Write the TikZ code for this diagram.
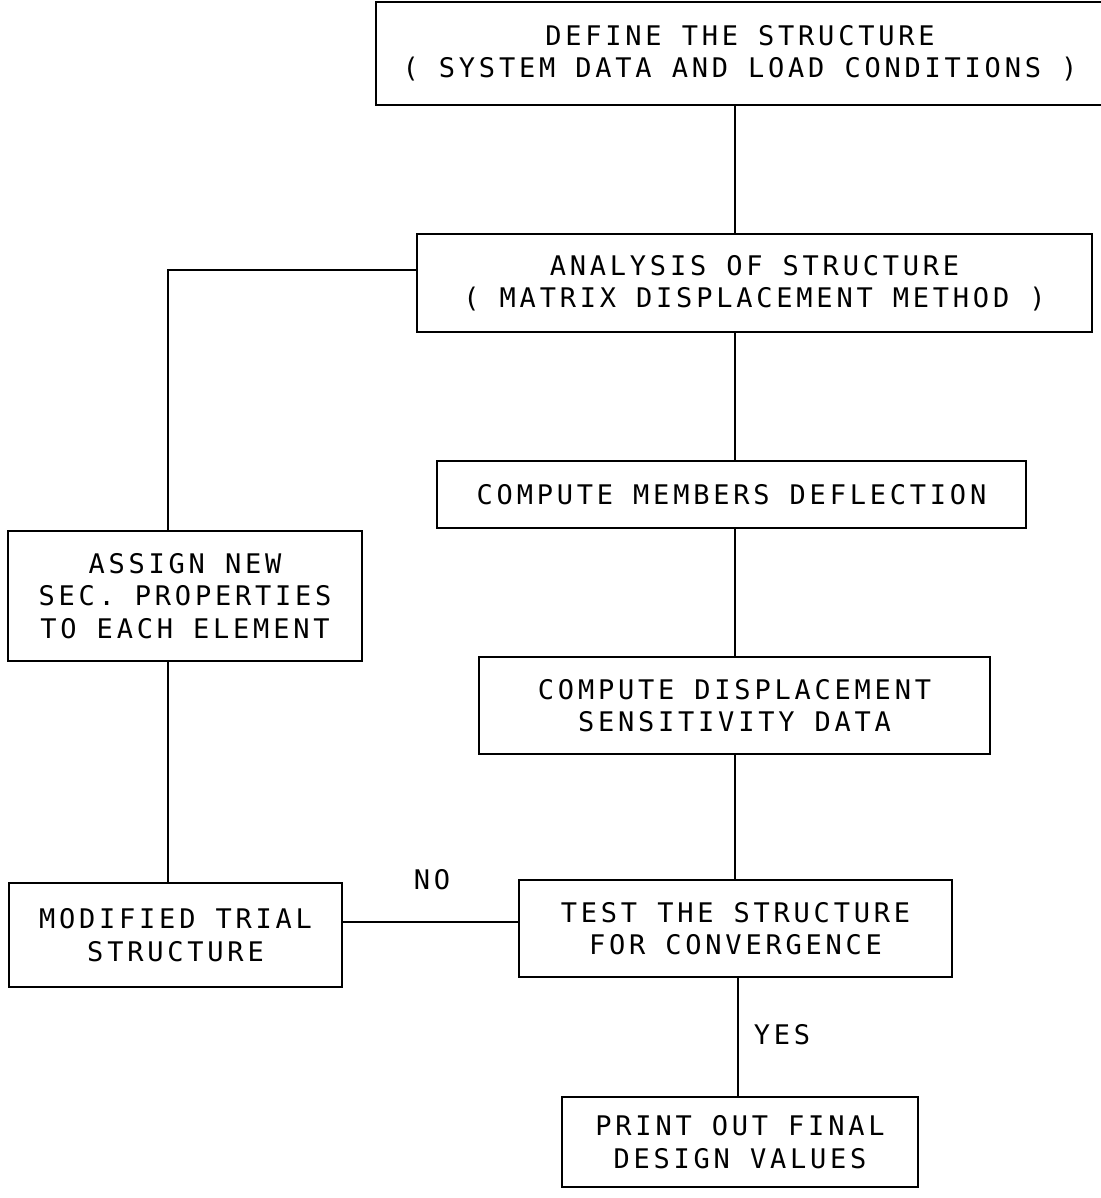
\documentclass[tikz,border=0pt]{standalone}
\usepackage{fontspec}
\setmainfont{DejaVu Sans Mono}[LetterSpace=14]
\begin{document}
\begin{tikzpicture}[x=0.5pt,y=-0.5pt,
  box/.style={draw,line width=1.3pt,inner sep=0pt,align=center,
    font=\fontsize{13.5}{16.2}\selectfont},
  conn/.style={line width=1.3pt},
  lbl/.style={inner sep=0pt,font=\fontsize{13.5}{16.2}\selectfont}]
\useasboundingbox (0,0) rectangle (1100,1198);
\coordinate (xm) at (735,0);
\coordinate (xp) at (738,0);
\coordinate (xl) at (168,0);
\coordinate (ya) at (0,270);
\coordinate (yn) at (0,922);
\node[box,minimum width=364pt,minimum height=51.5pt] (define) at (740,53.5)
  {DEFINE THE STRUCTURE\\( SYSTEM DATA AND LOAD CONDITIONS )};
\node[box,minimum width=337.5pt,minimum height=49pt] (analysis) at (754.5,283)
  {ANALYSIS OF STRUCTURE\\( MATRIX DISPLACEMENT METHOD )};
\node[box,minimum width=294.5pt,minimum height=33.5pt] (deflect) at (731.5,494.5)
  {COMPUTE MEMBERS DEFLECTION};
\node[box,minimum width=177pt,minimum height=65pt] (assign) at (185,596)
  {ASSIGN NEW\\SEC. PROPERTIES\\TO EACH ELEMENT};
\node[box,minimum width=255.5pt,minimum height=48.5pt] (sens) at (734.5,705.5)
  {COMPUTE DISPLACEMENT\\SENSITIVITY DATA};
\node[box,minimum width=166.5pt,minimum height=52pt] (trial) at (175.5,935)
  {MODIFIED TRIAL\\STRUCTURE};
\node[box,minimum width=216.5pt,minimum height=48.5pt] (test) at (735.5,928.5)
  {TEST THE STRUCTURE\\FOR CONVERGENCE};
\node[box,minimum width=178pt,minimum height=45pt] (print) at (740,1142)
  {PRINT OUT FINAL\\DESIGN VALUES};
\draw[conn] (define.south -| xm) -- (analysis.north -| xm);
\draw[conn] (analysis.south -| xm) -- (deflect.north -| xm);
\draw[conn] (deflect.south -| xm) -- (sens.north -| xm);
\draw[conn] (sens.south -| xm) -- (test.north -| xm);
\draw[conn] (test.south -| xp) -- (print.north -| xp);
\draw[conn] (analysis.west |- ya) -- (xl |- ya) -- (assign.north -| xl);
\draw[conn] (assign.south -| xl) -- (trial.north -| xl);
\draw[conn] (trial.east |- yn) -- (test.west |- yn);
\node[lbl] (no) at (432,880) {NO};
\node[lbl] (yes) at (782,1035) {YES};
\end{tikzpicture}
\end{document}
